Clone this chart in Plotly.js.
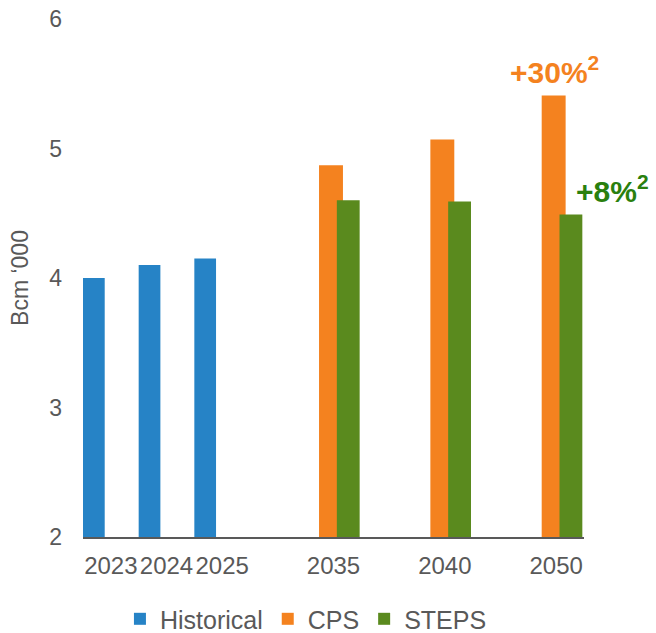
<!DOCTYPE html>
<html>
<head>
<meta charset="utf-8">
<script src="https://cdn.plot.ly/plotly-3.0.1.min.js"></script>
<style>html,body{margin:0;padding:0;background:#fff;}#chart{width:656px;height:633px;}</style>
</head>
<body>
<div id="chart"></div>
<script>
// Data
const categories = ['2023', '2024', '2025', ' ', '2035', '  ', '2040', '   ', '2050'];
const histYears = ['2023', '2024', '2025'];
const histValues = [4.00, 4.10, 4.15];
const scenYears = ['2035', '2040', '2050'];
const cpsValues = [4.87, 5.07, 5.41];
const stepsValues = [4.60, 4.59, 4.49];
const xTickLabels = histYears.concat(scenYears);
const yTicks = [2, 3, 4, 5, 6];
const cpsLabel = '<b>+30%<sup>2</sup></b>';
const stepsLabel = '<b>+8%<sup>2</sup></b>';

const FONT = 'Liberation Sans, Arial, sans-serif';
const GREY = '#595959';

const traces = [
  {type: 'bar', name: 'Historical', x: histYears, y: histValues,
   marker: {color: '#2683C6'}, width: 0.39, offset: -0.5},
  {type: 'bar', name: 'CPS', x: scenYears, y: cpsValues,
   marker: {color: '#F4821F'}, width: 0.43, offset: -0.26},
  {type: 'bar', name: 'STEPS', x: scenYears, y: stepsValues,
   marker: {color: '#5A8A1E'}, width: 0.41, offset: 0.06}
];

const lastIdx = categories.indexOf(scenYears[2]);

const layout = {
  width: 656, height: 633,
  margin: {l: 83, r: 72, t: 19, b: 96, autoexpand: false},
  paper_bgcolor: '#fff', plot_bgcolor: '#fff',
  barmode: 'overlay',
  font: {family: FONT, color: GREY, size: 23},
  showlegend: true,
  legend: {orientation: 'h', x: 0.445, xanchor: 'center', y: -0.114, yanchor: 'top',
           font: {family: FONT, size: 25, color: GREY}, traceorder: 'normal'},
  xaxis: {type: 'category', categoryorder: 'array', categoryarray: categories,
          tickmode: 'array', tickvals: xTickLabels, ticktext: xTickLabels,
          range: [-0.5, 8.5], showline: true, linecolor: GREY, linewidth: 2,
          ticks: '', showgrid: false, zeroline: false, ticklabelstandoff: 6,
          tickfont: {family: FONT, size: 24, color: GREY}, fixedrange: true},
  yaxis: {range: [2, 6], tickvals: yTicks, showline: false, showgrid: false,
          zeroline: false, ticks: '', ticklabelstandoff: 20,
          tickfont: {family: FONT, size: 23, color: GREY},
          title: {text: 'Bcm ‘000', font: {family: FONT, size: 23, color: GREY}, standoff: 14},
          fixedrange: true},
  annotations: [
    {x: lastIdx, y: cpsValues[2], xref: 'x', yref: 'y', text: cpsLabel, showarrow: false,
     xanchor: 'center', yanchor: 'bottom', xshift: -2, yshift: 4,
     font: {family: FONT, size: 30, color: '#F4821F'}},
    {x: lastIdx, y: stepsValues[2], xref: 'x', yref: 'y', text: stepsLabel, showarrow: false,
     xanchor: 'left', yanchor: 'bottom', xshift: 18, yshift: 5,
     font: {family: FONT, size: 30, color: '#2A800E'}}
  ]
};

Plotly.newPlot('chart', traces, layout, {displayModeBar: false, staticPlot: true});
</script>
</body>
</html>
